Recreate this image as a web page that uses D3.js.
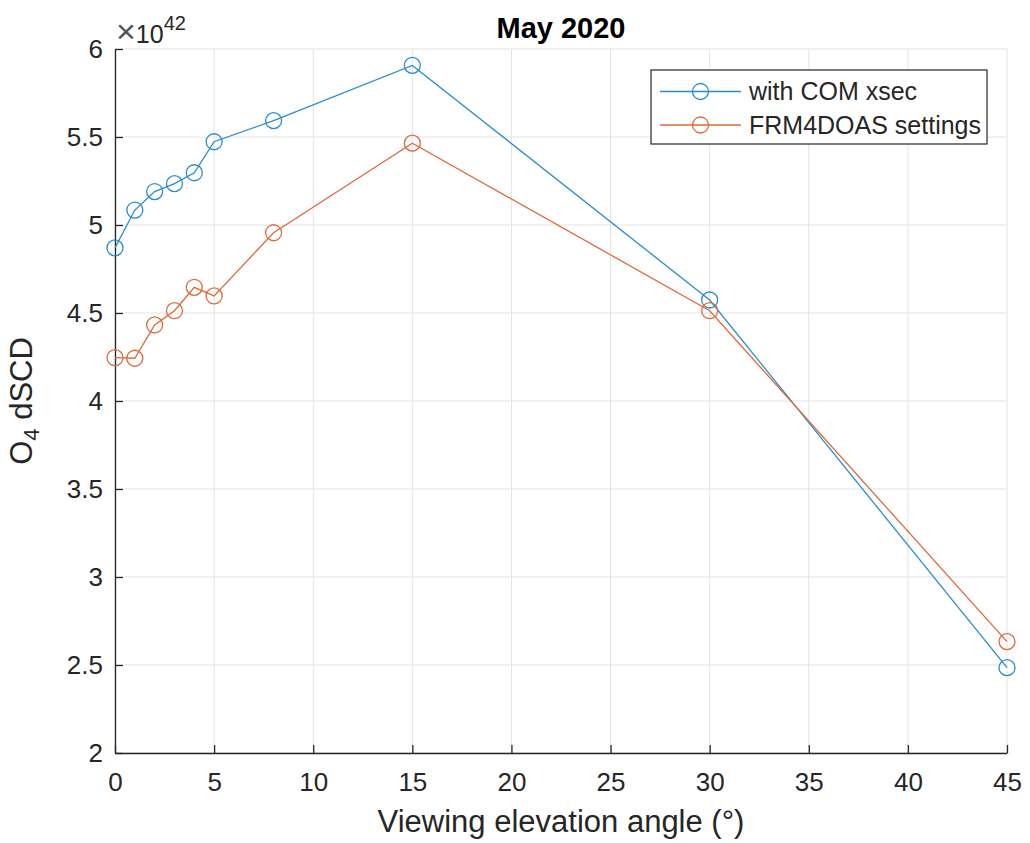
<!DOCTYPE html>
<html>
<head>
<meta charset="utf-8">
<script src="https://cdn.jsdelivr.net/npm/d3@7"></script>
<style>
  body { margin: 0; background: #fff; }
  text { font-family: "Liberation Sans", Arial, sans-serif; fill: #262626; }
</style>
</head>
<body>
<div id="chart"></div>
<script>
// elevation angles (deg)
var angles = [0, 1, 2, 3, 4, 5, 8, 15, 30, 45];

// O4 dSCD values, in units of 1e42
var comXsec = [4.87, 5.085, 5.19, 5.235, 5.297, 5.473, 5.593, 5.907, 4.574, 2.485];
var frm4doas = [4.246, 4.243, 4.432, 4.513, 4.646, 4.597, 4.956, 5.465, 4.513, 2.633];

var xTicks = [0, 5, 10, 15, 20, 25, 30, 35, 40, 45];
var yTicks = [2, 2.5, 3, 3.5, 4, 4.5, 5, 5.5, 6];

var seriesNames = ["with COM xsec", "FRM4DOAS settings"];
var seriesColors = ["#2a8ccf", "#e0693a"];

var width = 1030, height = 843;
var margin = {left: 115, right: 23, top: 49, bottom: 90};

var svg = d3.select("#chart").append("svg")
    .attr("width", width)
    .attr("height", height);

var x = d3.scaleLinear().domain([0, 45]).range([margin.left, width - margin.right]);
var y = d3.scaleLinear().domain([2, 6]).range([height - margin.bottom, margin.top]);

// grid lines
var grid = svg.append("g").attr("class", "grid");
grid.selectAll("line.gx")
    .data(xTicks)
  .enter().append("line")
    .attr("x1", d => x(d)).attr("x2", d => x(d))
    .attr("y1", y(2)).attr("y2", y(6))
    .style("stroke", "#e3e3e3").style("stroke-width", 1);
grid.selectAll("line.gy")
    .data(yTicks)
  .enter().append("line")
    .attr("x1", x(0)).attr("x2", x(45))
    .attr("y1", d => y(d)).attr("y2", d => y(d))
    .style("stroke", "#e3e3e3").style("stroke-width", 1);

// axes, ticks pointing inwards like matlab
var xAxis = d3.axisBottom(x).tickValues(xTicks).tickSizeInner(-8).tickSizeOuter(0).tickPadding(20);
var yAxis = d3.axisLeft(y).tickValues(yTicks).tickSizeInner(-8).tickSizeOuter(0).tickPadding(12)
    .tickFormat(d3.format("~g"));

var gx = svg.append("g")
    .attr("transform", "translate(0," + y(2) + ")")
    .call(xAxis);
var gy = svg.append("g")
    .attr("transform", "translate(" + x(0) + ",0)")
    .call(yAxis);

[gx, gy].forEach(function(g) {
    g.select(".domain").style("stroke", "#262626").style("stroke-width", 1.3);
    g.selectAll(".tick line").style("stroke", "#262626").style("stroke-width", 1.3);
    g.selectAll(".tick text")
        .style("font-size", "26px")
        .style("font-family", "Liberation Sans, Arial, sans-serif")
        .style("fill", "#262626");
});

// exponent label
var expo = svg.append("text")
    .attr("x", 116).attr("y", 43)
    .style("font-size", "25px");
expo.append("tspan").style("font-size", "34px").style("fill", "#555").text("\u00d7");
expo.append("tspan").text("10");
expo.append("tspan").attr("dy", -13).style("font-size", "20px").text("42");

// title
svg.append("text")
    .attr("x", x(22.5)).attr("y", 38)
    .attr("text-anchor", "middle")
    .style("font-size", "29px")
    .style("font-weight", "bold")
    .style("fill", "#000")
    .text("May 2020");

// axis labels
svg.append("text")
    .attr("x", x(22.5)).attr("y", 832)
    .attr("text-anchor", "middle")
    .style("font-size", "31px")
    .text("Viewing elevation angle (\u00b0)");

var yl = svg.append("text")
    .attr("transform", "translate(32," + y(4) + ") rotate(-90)")
    .attr("text-anchor", "middle")
    .style("font-size", "31px");
yl.append("tspan").text("O");
yl.append("tspan").attr("dy", 7).style("font-size", "22px").text("4");
yl.append("tspan").attr("dy", -7).text(" dSCD");

// series
var line = d3.line()
    .x(d => x(d[0]))
    .y(d => y(d[1]));

[comXsec, frm4doas].forEach(function(values, i) {
    var pts = angles.map((a, j) => [a, values[j]]);
    var g = svg.append("g");
    g.append("path")
        .datum(pts)
        .attr("d", line)
        .style("fill", "none")
        .style("stroke", seriesColors[i])
        .style("stroke-width", 1.3);
    g.selectAll("circle")
        .data(pts)
      .enter().append("circle")
        .attr("cx", d => x(d[0]))
        .attr("cy", d => y(d[1]))
        .attr("r", 8)
        .style("fill", "none")
        .style("stroke", seriesColors[i])
        .style("stroke-width", 1.3);
});

// legend
var legend = svg.append("g").attr("transform", "translate(651,70)");
legend.append("rect")
    .attr("width", 336).attr("height", 74)
    .style("fill", "#fff")
    .style("stroke", "#262626")
    .style("stroke-width", 1.2);

seriesNames.forEach(function(name, i) {
    var row = legend.append("g").attr("transform", "translate(0," + (21.5 + i * 33.5) + ")");
    row.append("line")
        .attr("x1", 9).attr("x2", 90)
        .style("stroke", seriesColors[i]).style("stroke-width", 1.3);
    row.append("circle")
        .attr("cx", 49.5).attr("r", 8)
        .style("fill", "none")
        .style("stroke", seriesColors[i]).style("stroke-width", 1.3);
    row.append("text")
        .attr("x", 98).attr("dy", "0.35em")
        .style("font-size", "25px")
        .text(name);
});
</script>
</body>
</html>
